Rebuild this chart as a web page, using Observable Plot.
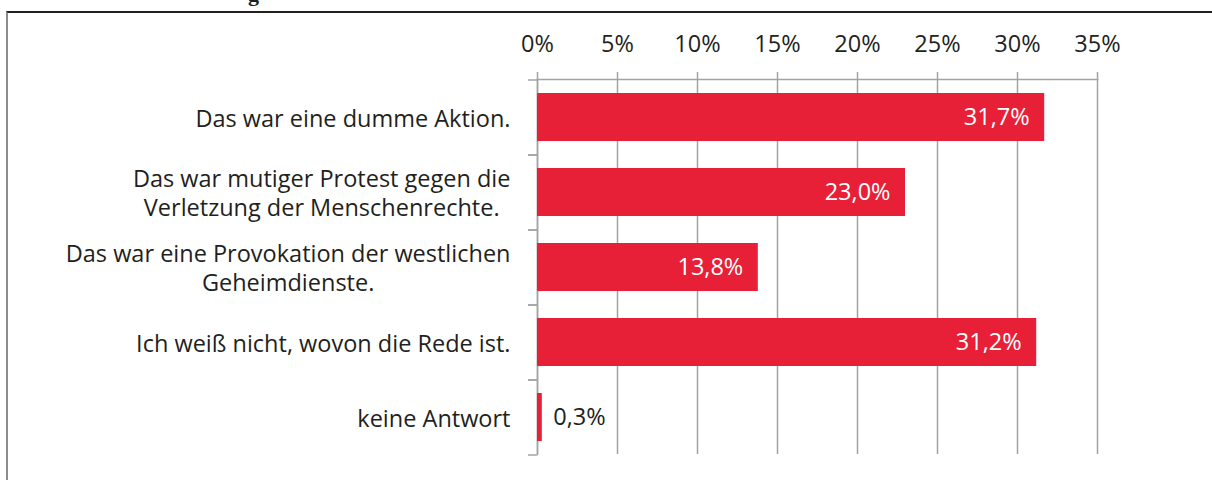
<!DOCTYPE html>
<html><head><meta charset="utf-8">
<script src="https://cdn.jsdelivr.net/npm/d3@7"></script>
<script src="https://cdn.jsdelivr.net/npm/@observablehq/plot@0.6"></script>
<style>
body{margin:0;background:#fff;overflow:hidden}
#wrap{position:relative;width:1212px;height:480px;overflow:hidden}
#box{position:absolute;left:6px;top:11px;right:-10px;bottom:-10px;border-top:2px solid #231f20;border-left:2px solid #8c8c8c}
#title{position:absolute;left:248px;top:-17px;font:bold 22px "Liberation Serif";line-height:22px;color:#231f20;white-space:nowrap}
#chart{position:absolute;left:0;top:0}
</style></head>
<body>
<div id="wrap">
  <div id="title">g</div>
  <div id="box"></div>
  <div id="chart"></div>
</div>
<script>
const categories = [
  "Das war eine dumme Aktion.",
  "Das war mutiger Protest gegen die\nVerletzung der Menschenrechte.",
  "Das war eine Provokation der westlichen\nGeheimdienste.",
  "Ich weiß nicht, wovon die Rede ist.",
  "keine Antwort"
];
const values = [31.7, 23.0, 13.8, 31.2, 0.3];
const xTicks = [0, 5, 10, 15, 20, 25, 30, 35];

const data = categories.map((label, i) => ({label, value: values[i]}));
const fmt = v => v.toFixed(1).replace(".", ",") + "%";
const grey = "#a3a3a3";
const ink = "#231f20";

const chart = Plot.plot({
  width: 1212,
  height: 480,
  marginLeft: 537,
  marginRight: 115,
  marginTop: 79,
  marginBottom: 26,
  style: {fontFamily: "Open Sans", fontSize: "23.5px", color: ink, background: "transparent"},
  x: {domain: [0, 35], ticks: xTicks},
  y: {domain: categories, paddingInner: 0.36, paddingOuter: 0.18, axis: null},
  marks: [
    Plot.gridX(xTicks, {stroke: grey, strokeOpacity: 1, strokeWidth: 1.5}),
    Plot.axisX(xTicks, {anchor: "top", tickSize: 8, tickPadding: 20, stroke: grey, strokeOpacity: 1, strokeWidth: 1.5,
      tickFormat: d => d + "%", fill: ink, label: null}),
    Plot.axisY(categories, {tickSize: 9, dy: -37.5, tickFormat: () => "", stroke: grey, strokeOpacity: 1, strokeWidth: 1.5, label: null}),
    Plot.axisY(categories, {tickSize: 9, dy: 37.5, tickFormat: () => "", stroke: grey, strokeOpacity: 1, strokeWidth: 1.5, label: null}),
    Plot.frame({anchor: "top", stroke: grey, strokeWidth: 1.5}),
    Plot.frame({anchor: "left", stroke: grey, strokeWidth: 1.5}),
    Plot.barX(data, {x: "value", y: "label", fill: "#e82037"}),
    Plot.text(data, {x: 0, y: "label", text: "label", textAnchor: "end", dx: -27, lineHeight: 1.24, fill: ink}),
    Plot.text(data.filter(d => d.value >= 5), {x: "value", y: "label", text: d => fmt(d.value), textAnchor: "end", dx: -15, fill: "white"}),
    Plot.text(data.filter(d => d.value < 5), {x: "value", y: "label", text: d => fmt(d.value), textAnchor: "start", dx: 11, fill: ink})
  ]
});
document.getElementById("chart").appendChild(chart);

// center the lines of wrapped category labels within their right-aligned block
chart.querySelectorAll("text").forEach(t => {
  if (t.querySelectorAll("tspan").length > 1) {
    const w = t.getBBox().width;
    t.setAttribute("text-anchor", "middle");
    const tr = t.getAttribute("transform") || "";
    t.setAttribute("transform", tr + ` translate(${-w / 2},0)`);
  }
});
</script>
</body></html>
